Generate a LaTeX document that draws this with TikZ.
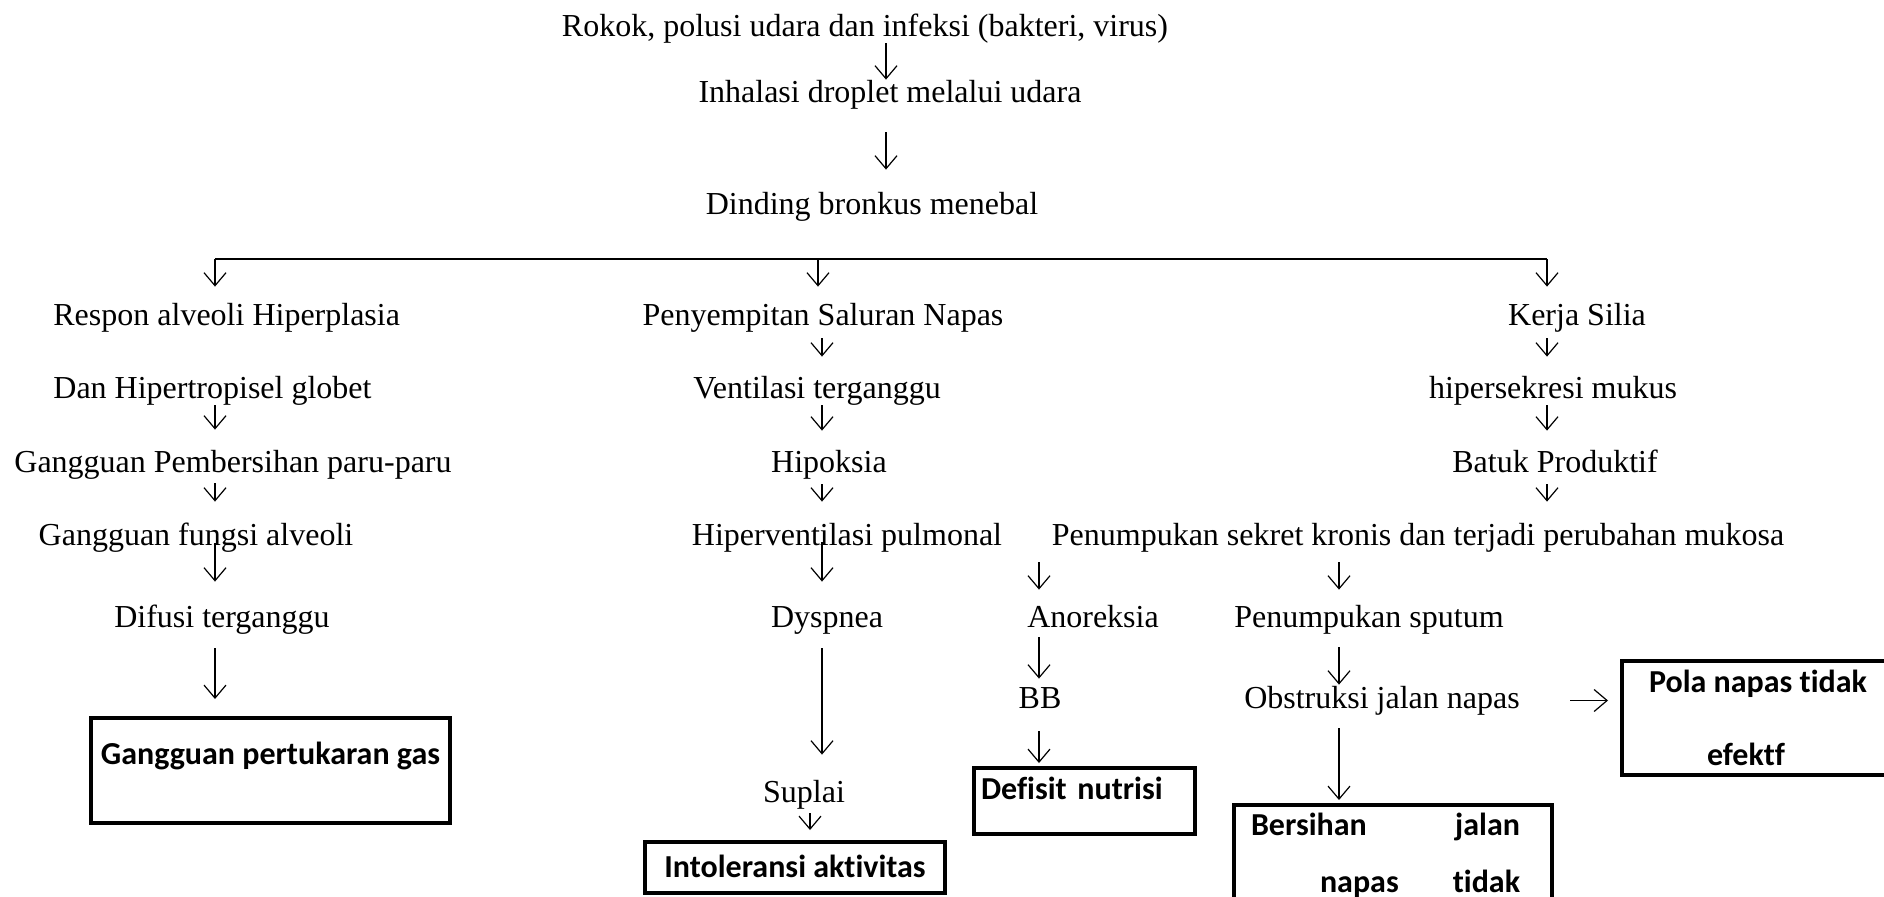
\documentclass[tikz,border=0pt]{standalone}
\usepackage{fontspec}
\setmainfont{Liberation Serif}
\newfontfamily\calibri[RawFeature={-liga,-clig,-calt}]{Carlito}
\usetikzlibrary{arrows.meta}

\tikzset{
  txt/.style={font=\fontsize{16}{19}\selectfont, inner sep=0pt, text height=11pt, text depth=3.5pt, anchor=base},
  arr/.style={-{Straight Barb[length=6.5pt,width=11pt]}, line width=0.6pt},
  bar/.style={line width=1pt},
  diag/.style={draw, line width=2pt, inner ysep=0pt, anchor=north west,
    font=\calibri\bfseries\fontsize{16}{19}\selectfont}
}

\begin{document}
\begin{tikzpicture}[x=0.5pt, y=-0.5pt]
  \useasboundingbox (0,0) rectangle (1884,896);
  \clip (0,0) rectangle (1884,896);

  % arrow columns
  \coordinate (colTop) at (886,0);
  \coordinate (colL) at (215,0);
  \coordinate (colM) at (822,0);
  \coordinate (colS) at (810,0);
  \coordinate (colA) at (1039,0);
  \coordinate (colB) at (1339,0);
  \coordinate (colR) at (1547,0);
  \coordinate (split) at (818,259);

  \node[txt] (rokok) at (865,36) {Rokok, polusi udara dan infeksi (bakteri, virus)};
  \node[txt] (inhal) at (890,102) {Inhalasi droplet melalui udara};
  \node[txt] (dinding) at (872,214) {Dinding bronkus menebal};

  % left
  \node[txt, anchor=base west] (resp) at (53,325) {Respon alveoli Hiperplasia};
  \node[txt, anchor=base west] (dan) at (53,398) {Dan Hipertropisel globet};
  \node[txt] (ggpem) at (233,472) {Gangguan Pembersihan paru-paru};
  \node[txt] (ggfungsi) at (196,545) {Gangguan fungsi alveoli};
  \node[txt] (difusi) at (222,627) {Difusi terganggu};
  \node[diag, minimum width=179.5pt, text height=23pt, text depth=29.5pt] (gas) at (89,716) {Gangguan pertukaran gas};

  % middle
  \node[txt] (peny) at (823,325) {Penyempitan Saluran Napas};
  \node[txt] (vent) at (817,398) {Ventilasi terganggu};
  \node[txt] (hipoks) at (829,472) {Hipoksia};
  \node[txt] (hiperv) at (847,545) {Hiperventilasi pulmonal};
  \node[txt] (dysp) at (827,627) {Dyspnea};
  \node[txt] (suplai) at (804,802) {Suplai};
  \node[diag, minimum width=150pt, text height=17.5pt, text depth=8pt] (intol) at (643,840) {Intoleransi aktivitas};

  \node[txt] (sekret) at (1418,545) {Penumpukan sekret kronis dan terjadi perubahan mukosa};
  \node[txt] (anor) at (1093,627) {Anoreksia};
  \node[txt] (bb) at (1040,708) {BB};
  \node[diag, text width=103.5pt, inner xsep=3.5pt, align=left, text height=15.5pt, text depth=17.5pt] (defisit) at (972,766) {Defisit nutrisi};
  \node[txt] (sputum) at (1369,627) {Penumpukan sputum};
  \node[txt] (obstr) at (1382,708) {Obstruksi jalan napas};
  \node[diag, inner xsep=0pt, text height=15pt, text depth=150pt] (bersih) at (1232,803)
    {\parbox[t]{159pt}{\leftskip=8.5pt\rightskip=16pt\baselineskip=28.5pt
      Bersihan\hfill jalan\\\hspace*{34.5pt}napas\hfill tidak}};
  \node[diag, inner xsep=0pt, text height=15.5pt, text depth=41.5pt] (pola) at (1620,659)
    {\parbox[t]{150pt}{\leftskip=13.5pt\baselineskip=36.5pt
      Pola napas tidak\\\hspace*{29pt}efektf}};

  % right
  \node[txt] (kerja) at (1577,325) {Kerja Silia};
  \node[txt] (hipsek) at (1553,398) {hipersekresi mukus};
  \node[txt] (batuk) at (1555,472) {Batuk Produktif};

  % connectors
  \draw[arr] (rokok.south -| colTop) -- (inhal.north -| colTop);
  \draw[arr, shorten <=11.5pt, shorten >=11pt] (inhal.south -| colTop) -- (dinding.north -| colTop);

  \draw[bar] (split -| colL) -- (split -| colR);
  \draw[arr, shorten >=8pt] (split -| colL) -- (resp.north -| colL);
  \draw[arr, shorten >=8pt] (split) -- (peny.north -| split);
  \draw[arr, shorten >=8pt] (split -| colR) -- (kerja.north -| colR);

  \draw[arr, shorten >=10pt] (dan.south -| colL) -- (ggpem.north -| colL);
  \draw[arr, shorten <=2pt, shorten >=10.5pt] (ggpem.south -| colL) -- (ggfungsi.north -| colL);
  \draw[arr, shorten <=-4.5pt, shorten >=11.5pt] (ggfungsi.south -| colL) -- (difusi.north -| colL);
  \draw[arr, shorten <=7pt, shorten >=8.5pt] (difusi.south -| colL) -- (gas.north -| colL);

  \draw[arr, shorten <=3pt, shorten >=9.5pt] (peny.south -| colM) -- (vent.north -| colM);
  \draw[arr, shorten >=9.5pt] (vent.south -| colM) -- (hipoks.north -| colM);
  \draw[arr, shorten <=2.5pt, shorten >=10.5pt] (hipoks.south -| colM) -- (hiperv.north -| colM);
  \draw[arr, shorten <=-5pt, shorten >=11.5pt] (hiperv.south -| colM) -- (dysp.north -| colM);
  \draw[arr, shorten <=7pt, shorten >=12.5pt] (dysp.south -| colM) -- (suplai.north -| colM);
  \draw[arr, shorten <=2pt, shorten >=5pt] (suplai.south -| colS) -- (intol.north -| colS);

  \draw[arr, shorten <=5pt, shorten >=7.5pt] (sekret.south -| colA) -- (anor.north -| colA);
  \draw[arr, shorten <=5pt, shorten >=7.5pt] (sekret.south -| colB) -- (sputum.north -| colB);
  \draw[arr, shorten <=1.5pt, shorten >=3.5pt] (anor.south -| colA) -- (bb.north -| colA);
  \draw[arr, shorten <=8pt, shorten >=1.5pt] (bb.south -| colA) -- (defisit.north -| colA);
  \draw[arr, shorten <=6.5pt, shorten >=0.5pt] (sputum.south -| colB) -- (obstr.north -| colB);
  \draw[arr, shorten <=6.5pt, shorten >=1.5pt] (obstr.south -| colB) -- (bersih.north -| colB);
  \draw[arr, shorten <=25pt, shorten >=6pt] (obstr.east) -- (obstr.east -| pola.west);

  \draw[arr, shorten <=3pt, shorten >=9.5pt] (kerja.south -| colR) -- (hipsek.north -| colR);
  \draw[arr, shorten >=9.5pt] (hipsek.south -| colR) -- (batuk.north -| colR);
  \draw[arr, shorten <=2.5pt, shorten >=10.5pt] (batuk.south -| colR) -- (sekret.north -| colR);
\end{tikzpicture}
\end{document}
